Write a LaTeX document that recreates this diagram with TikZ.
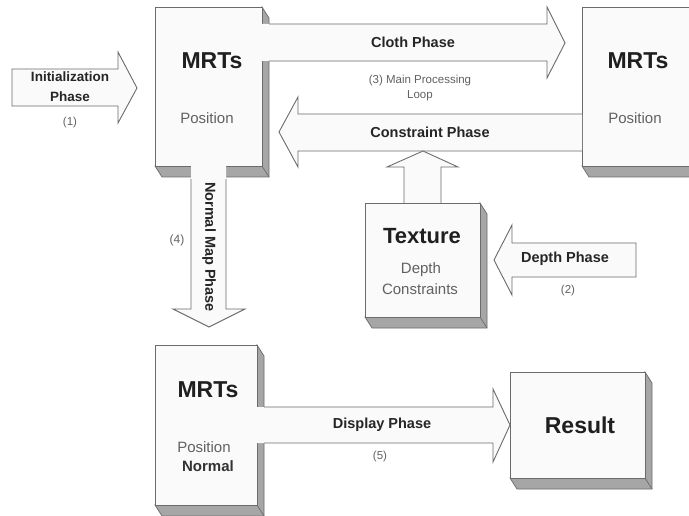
\documentclass[tikz,border=0pt]{standalone}
\usepackage{fontspec}
\setmainfont{Liberation Sans}
\begin{document}
\begin{tikzpicture}[x=1pt,y=-1pt,
  lc/.style={draw=black!58, line width=0.9pt, line join=miter},
  boxst/.style={lc, fill=black!2},
  shadowst/.style={draw=black!58, line width=0.7pt, fill=black!35},
  arrfill/.style={fill=black!2},
  arrline/.style={lc},
  bigt/.style={inner sep=0pt, text=black!88, font=\bfseries\fontsize{23}{26}\selectfont},
  phaset/.style={inner sep=0pt, text=black!85, font=\bfseries\fontsize{14.5}{17}\selectfont},
  regt/.style={inner sep=0pt, text=black!62, font=\fontsize{15}{18}\selectfont, align=center},
  smallt/.style={inner sep=0pt, text=black!62, font=\fontsize{11.5}{14.5}\selectfont, align=center}
]
\useasboundingbox (0,0) rectangle (689,516);
\fill[white] (0,0) rectangle (689,516);

% shadow macro: x1 y1 x2 y2
\newcommand\bxshadow[4]{%
  \filldraw[shadowst] (#3,#2) -- (#3+7,#2+11) -- (#3+7,#4+11) -- (#1+7,#4+11) -- (#1,#4) -- (#3,#4) -- cycle;
  \draw[shadowst] (#3,#4) -- (#3+7,#4+11);}

% shadows
\bxshadow{155}{7}{262}{166}
\bxshadow{582}{7}{700}{166}
\bxshadow{365}{203}{480}{317}
\bxshadow{155}{345}{257}{505}
\bxshadow{510}{372}{645}{478}

% boxes
\node[boxst, anchor=north west, minimum width=107pt, minimum height=159pt, inner sep=0pt] (m1) at (155,7) {};
\node[boxst, anchor=north west, minimum width=118pt, minimum height=159pt, inner sep=0pt] (m2) at (582,7) {};
\node[boxst, anchor=north west, minimum width=115pt, minimum height=114pt, inner sep=0pt] (tx) at (365,203) {};
\node[boxst, anchor=north west, minimum width=102pt, minimum height=160pt, inner sep=0pt] (m3) at (155,345) {};
\node[boxst, anchor=north west, minimum width=135pt, minimum height=106pt, inner sep=0pt] (rs) at (510,372) {};

% Initialization arrow (closed)
\filldraw[arrfill, lc] (12,69) -- (118,69) -- (118,52) -- (137,88) -- (118,123) -- (118,106) -- (12,106) -- cycle;

% Cloth arrow
\fill[arrfill] (262,24) -- (547,24) -- (547,7) -- (565,43) -- (547,78) -- (547,61) -- (262,61) -- cycle;
\draw[arrline] (269,24) -- (547,24) -- (547,7) -- (565,43) -- (547,78) -- (547,61) -- (269,61);

% Constraint arrow
\fill[arrfill] (582,114) -- (298,114) -- (298,97) -- (279,132) -- (298,167) -- (298,151) -- (582,151) -- cycle;
\draw[arrline] (582,114) -- (298,114) -- (298,97) -- (279,132) -- (298,167) -- (298,151) -- (582,151);

% Up arrow (Texture -> Constraint)
\fill[arrfill] (404,203) -- (404,167) -- (387,167) -- (423,151) -- (458,167) -- (441,167) -- (441,203) -- cycle;
\draw[arrline] (404,203) -- (404,167) -- (387,167) -- (423,151) -- (458,167) -- (441,167) -- (441,203);

% Down arrow (Normal Map)
\fill[arrfill] (191,166) -- (191,309) -- (173,309) -- (209,327) -- (245,309) -- (226,309) -- (226,166) -- cycle;
\draw[arrline] (191,179) -- (191,309) -- (173,309) -- (209,327) -- (245,309) -- (226,309) -- (226,179);

% Depth arrow (closed)
\filldraw[arrfill, lc] (636,243) -- (512,243) -- (512,225) -- (494,260) -- (512,295) -- (512,277) -- (636,277) -- cycle;

% Display arrow
\fill[arrfill] (257,407) -- (493,407) -- (493,389) -- (510,425) -- (493,462) -- (493,443) -- (257,443) -- cycle;
\draw[arrline] (264,407) -- (493,407) -- (493,389) -- (510,425) -- (493,462) -- (493,443) -- (264,443);

% texts
\node[bigt] (m1t) at (212,61) {MRTs};
\node[regt] (m1p) at (207,118) {Position};
\node[bigt] (m2t) at (638,61) {MRTs};
\node[regt] (m2p) at (635,118) {Position};
\node[bigt, font=\bfseries\fontsize{22}{26}\selectfont] (txt) at (422,236) {Texture};
\node[regt] (txd) at (421,270) {Depth};
\node[regt] (txc) at (420,289) {Constraints};
\node[bigt] (m3t) at (208,390) {MRTs};
\node[regt] (m3p) at (204,447) {Position};
\node[regt, text=black!80, font=\bfseries\fontsize{15}{18}\selectfont] (m3n) at (208,466) {Normal};
\node[bigt] (rst) at (580,425) {Result};

\node[phaset, font=\bfseries\fontsize{13.5}{16}\selectfont] (ini1) at (70,77) {Initialization};
\node[phaset, font=\bfseries\fontsize{13.5}{16}\selectfont] (ini2) at (70,97) {Phase};
\node[smallt] (n1) at (70,123) {(1)};
\node[phaset] (cl) at (413,42) {Cloth Phase};
\node[smallt] (mpl) at (420,88) {(3) Main Processing\\Loop};
\node[phaset] (cp) at (430,132) {Constraint Phase};
\node[phaset, rotate=-90] (nm) at (209,247) {Normal Map Phase};
\node[smallt, font=\fontsize{12}{14}\selectfont] (n4) at (177,240) {(4)};
\node[phaset] (dp) at (565,259) {Depth Phase};
\node[smallt] (n2) at (568,291) {(2)};
\node[phaset] (dsp) at (382,425) {Display Phase};
\node[smallt] (n5) at (380,457) {(5)};
\end{tikzpicture}
\end{document}
